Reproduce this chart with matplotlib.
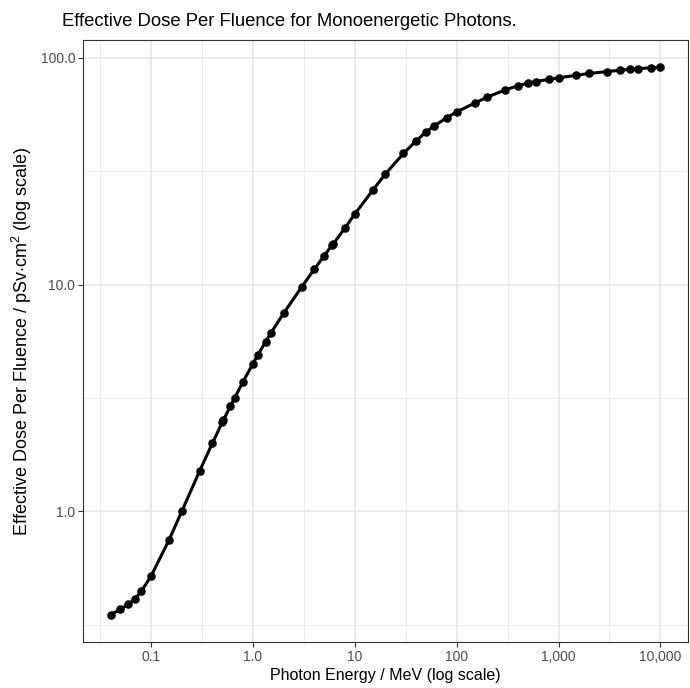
import numpy as np
import matplotlib.pyplot as plt
from matplotlib.ticker import FixedLocator, FixedFormatter, NullFormatter

plt.rcParams['font.family'] = ['Liberation Sans', 'DejaVu Sans']
plt.rcParams['mathtext.fontset'] = 'custom'
plt.rcParams['mathtext.rm'] = 'Liberation Sans'

# photon energy (MeV) and effective dose per fluence (pSv cm^2)
energy = [0.04, 0.05, 0.06, 0.07, 0.08, 0.1, 0.15, 0.2, 0.3, 0.4, 0.5, 0.511,
          0.6, 0.662, 0.8, 1, 1.117, 1.33, 1.5, 2, 3, 4, 5, 6, 6.129, 8, 10,
          15, 20, 30, 40, 50, 60, 80, 100, 150, 200, 300, 400, 500, 600, 800,
          1000, 1500, 2000, 3000, 4000, 5000, 6000, 8000, 10000]
dose = [0.351, 0.370, 0.390, 0.413, 0.444, 0.519, 0.748, 1.00, 1.51, 2.00,
        2.47, 2.52, 2.91, 3.17, 3.73, 4.49, 4.90, 5.59, 6.12, 7.48, 9.75,
        11.7, 13.4, 15.0, 15.1, 17.8, 20.5, 26.1, 30.8, 37.9, 43.1, 47.1,
        50.1, 54.5, 57.8, 63.2, 67.2, 72.3, 75.4, 77.4, 78.7, 80.4, 81.7,
        83.9, 85.4, 87.1, 88.2, 89.0, 89.6, 90.5, 90.9]

x_ticks = [0.1, 1, 10, 100, 1000, 10000]
x_labels = ["0.1", "1.0", "10", "100", "1,000", "10,000"]
y_ticks = [1, 10, 100]
y_labels = ["1.0", "10.0", "100.0"]

fig = plt.figure(figsize=(6.9, 6.88), dpi=100)
ax = fig.add_axes([0.1203, 0.0669, 0.8767, 0.875])

ax.plot(energy, dose, color='black', lw=2.2, zorder=3)
ax.scatter(energy, dose, s=38, color='black', zorder=4, linewidths=0)
ax.set_xscale('log')
ax.set_yscale('log')

lx = np.log10([min(energy), max(energy)])
ly = np.log10([min(dose), max(dose)])
ex = (lx[1] - lx[0]) * 0.05
ey = (ly[1] - ly[0]) * 0.05
ax.set_xlim(10 ** (lx[0] - ex), 10 ** (lx[1] + ex))
ax.set_ylim(10 ** (ly[0] - ey), 10 ** (ly[1] + ey))

ax.xaxis.set_major_locator(FixedLocator(x_ticks))
ax.xaxis.set_major_formatter(FixedFormatter(x_labels))
ax.xaxis.set_minor_locator(FixedLocator([10 ** (k + 0.5) for k in range(-2, 4)]))
ax.xaxis.set_minor_formatter(NullFormatter())
ax.yaxis.set_major_locator(FixedLocator(y_ticks))
ax.yaxis.set_major_formatter(FixedFormatter(y_labels))
ax.yaxis.set_minor_locator(FixedLocator([10 ** (k + 0.5) for k in range(-1, 2)]))
ax.yaxis.set_minor_formatter(NullFormatter())

ax.grid(True, which='major', color='#e6e6e6', lw=1.2, zorder=0)
ax.grid(True, which='minor', color='#ededed', lw=0.7, zorder=0)
ax.set_axisbelow(True)
ax.tick_params(which='major', length=3.5, width=0.8, color='#333333',
               labelcolor='#4d4d4d', labelsize=10, pad=2)
ax.tick_params(which='minor', length=0)
for s in ax.spines.values():
    s.set_color('#333333')
    s.set_linewidth(0.8)

ax.set_xlabel("Photon Energy / MeV (log scale)", fontsize=11.5, labelpad=3)
ax.set_ylabel(r"Effective Dose Per Fluence / pSv$\cdot$cm$^2$ (log scale)",
              fontsize=13, labelpad=5)
ax.set_title("Effective Dose Per Fluence for Monoenergetic Photons.",
             fontsize=13.3, loc='left', x=-0.035, pad=10)

fig.savefig("out.png", dpi=100)
